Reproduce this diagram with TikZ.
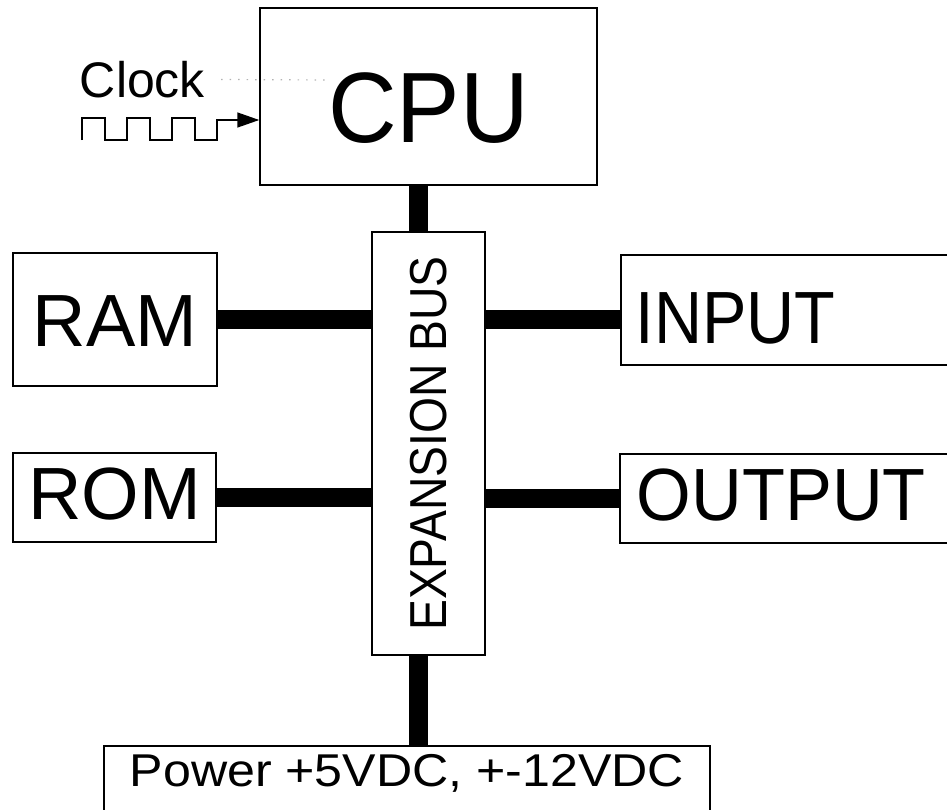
\documentclass[tikz,border=0pt]{standalone}
\usepackage{graphicx}
\usepackage{fontspec}
\setmainfont{Liberation Sans}
\usetikzlibrary{arrows.meta}

\begin{document}
\begin{tikzpicture}[x=1pt, y=-1pt,
  box/.style={draw, line width=1.5pt, inner sep=0pt, text depth=0pt},
  unitfont/.style={font=\fontsize{74}{74}\selectfont, text height=53pt},
  link/.style={line width=19pt},
  wave/.style={line width=1.5pt, -{Triangle[length=22pt, width=15pt]}},
  guide/.style={gray!60, line width=1.2pt, dash pattern=on 1.5pt off 7pt}]
  \useasboundingbox (0,0) rectangle (947,809);
  \clip (0,0) rectangle (947,809);
  % processor with its clock input
  \node[box, minimum width=337pt, minimum height=177pt, font=\fontsize{100}{100}\selectfont, text height=92pt] (cpu) at (428.5,96.5) {\scalebox{0.95}[1]{CPU}};
  \node[font=\fontsize{50}{50}\selectfont, inner sep=0pt, text height=36pt, text depth=0pt] (clock) at (142.5,79.5) {Clock};
  \coordinate (clkin) at (217,120);
  \draw[wave] (82,140) -- ++(0,-22) -- ++(23,0) -- ++(0,22) -- ++(22,0) -- ++(0,-22) -- ++(23,0) -- ++(0,22)
    -- ++(22,0) -- ++(0,-22) -- ++(23,0) -- ++(0,22) -- ++(22,0) -- (clkin) -- (clkin -| cpu.west);
  \draw[guide] (clock.east) ++(16,0) -- (330,80);
  % memory
  \node[box, unitfont, minimum width=204pt, minimum height=133pt] (ram) at (115,319.5) {RAM};
  \node[box, unitfont, text depth=10pt, minimum width=203pt, minimum height=89pt] (rom) at (114.5,497.5) {ROM};
  % the bus itself
  \node[box, minimum width=113pt, minimum height=423pt, font=\fontsize{52}{52}\selectfont] (bus) at (428.5,443.5) {\rotatebox{90}{\scalebox{0.89}[1]{EXPANSION BUS}}};
  % i/o, running off the right edge
  \node[box, unitfont, text height=66pt, anchor=west, minimum height=110pt, inner xsep=15pt, text width=340pt, align=left] (input) at (620,310) {\scalebox{0.9}[1]{INPUT}};
  \node[box, unitfont, text depth=10pt, anchor=west, minimum height=89pt, inner xsep=17pt, text width=340pt, align=left] (output) at (619,498.5) {\scalebox{0.95}[1]{OUTPUT}};
  % supply, running off the bottom edge
  \node[box, anchor=north, minimum width=606pt, font=\fontsize{46}{46}\selectfont, text height=41pt, text depth=60pt] (power) at (407,745) {\scalebox{1.09}[1]{Power +5VDC, +-12VDC}};
  % bus connections
  \coordinate (spine) at (418,443.5);
  \draw[link] (cpu.south -| spine) -- (bus.north -| spine);
  \draw[link] (bus.south -| spine) -- (power.north -| spine);
  \draw[link] (ram.east) -- (ram.east -| bus.west);
  \draw[link] (ram.east -| bus.east) -- (ram.east -| input.west);
  \draw[link] (rom.east) -- (rom.east -| bus.west);
  \draw[link] (output.west -| bus.east) -- (output.west);
\end{tikzpicture}
\end{document}
